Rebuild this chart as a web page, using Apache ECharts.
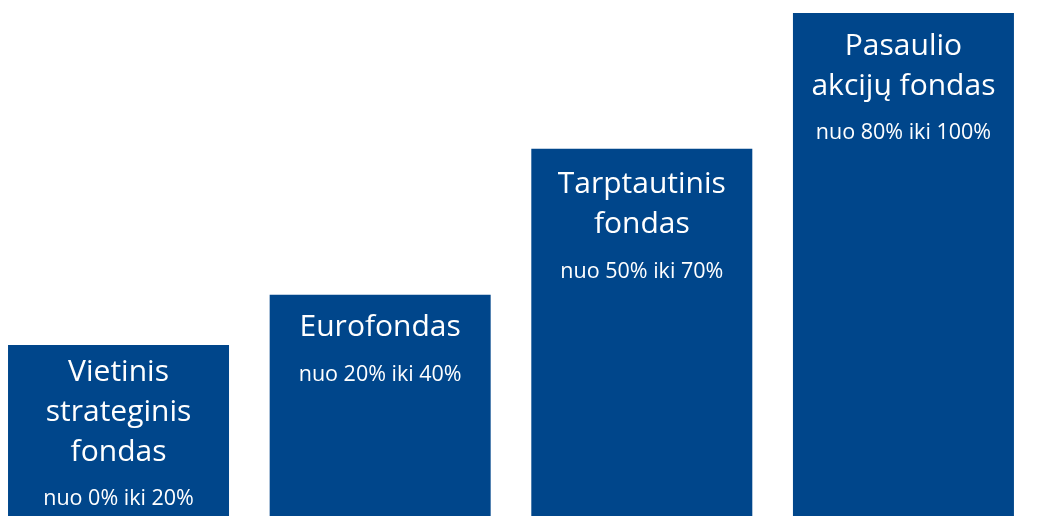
<!DOCTYPE html>
<html>
<head>
<meta charset="utf-8">
<script src="https://cdn.jsdelivr.net/npm/echarts@6/dist/echarts.min.js"></script>
<style>
  html, body { margin: 0; padding: 0; background: #fff; }
  #chart { width: 1062px; height: 516px; }
</style>
</head>
<body>
<div id="chart"></div>
<script>
// fund names (split into lines as drawn), share ranges and relative bar heights
const funds = [
  ['Vietinis', 'strateginis', 'fondas'],
  ['Eurofondas'],
  ['Tarptautinis', 'fondas'],
  ['Pasaulio', 'akcijų fondas'],
]
const ranges = ['nuo 0% iki 20%', 'nuo 20% iki 40%', 'nuo 50% iki 70%', 'nuo 80% iki 100%']
const heights = [34, 44, 73, 100]

const chart = echarts.init(document.getElementById('chart'))

// the labels don't sit at quite the same depth in every bar
const labelGap = [7, 13, 16, 13]

chart.setOption({
  animation: false,
  grid: { left: 0, right: 0, top: 13, bottom: 0 },
  // bars sit on a plain value axis by their index so the row can start near the left edge
  xAxis: { type: 'value', min: -0.453, max: 3.606, show: false },
  yAxis: { type: 'value', min: 0, max: 100, show: false },
  series: [
    {
      type: 'bar',
      barWidth: 221,
      data: heights.map((h, i) => ({ value: [i, h], label: { distance: labelGap[i] } })),
      itemStyle: { color: '#00468B' },
      label: {
        show: true,
        position: 'insideTop',
        align: 'center',
        formatter: (p) =>
          funds[p.dataIndex].map((l) => '{t|' + l + '}').join('\n') + '\n{s|' + ranges[p.dataIndex] + '}',
        rich: {
          t: { color: '#fff', fontSize: 30, lineHeight: 40, fontFamily: 'Open Sans', align: 'center' },
          s: { color: '#fff', fontSize: 21.5, lineHeight: 54, fontFamily: 'Open Sans', align: 'center' },
        },
      },
    },
  ],
})
</script>
</body>
</html>
